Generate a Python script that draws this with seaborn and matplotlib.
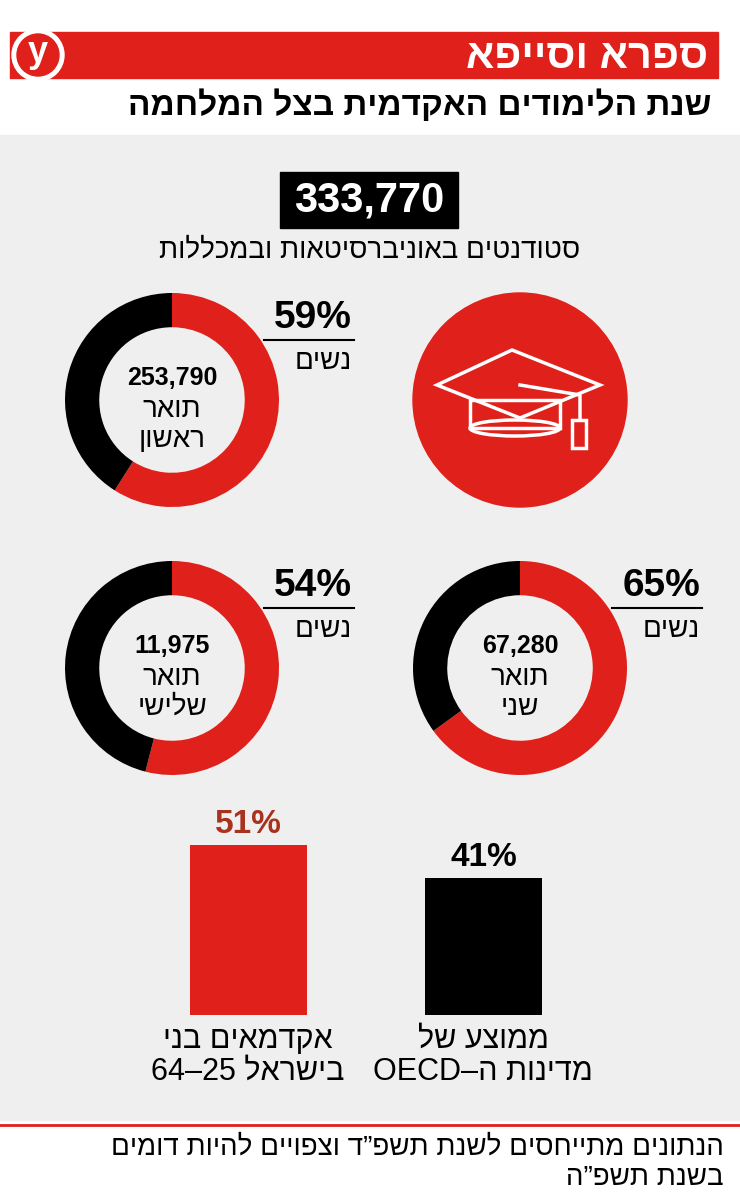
import matplotlib
matplotlib.use("Agg")
import matplotlib.pyplot as plt
import matplotlib.patches as mp
import seaborn as sns
import pandas as pd

# ---- data ----
total_students = "333,770"
donut_labels = ["תואר ראשון", "תואר שני", "תואר שלישי"]
donut_counts = ["253,790", "67,280", "11,975"]
women_pct = [59, 65, 54]
bar_categories = ["ישראל", "OECD"]
bar_values = [51, 41]

RED = "#e0201a"
BG = "#f0efef"
FONT = "Liberation Sans"
plt.rcParams["font.family"] = FONT

def rv(s):
    return s[::-1]

W, H = 740, 1199
fig = plt.figure(figsize=(W / 100, H / 100), dpi=100)
ax = fig.add_axes([0, 0, 1, 1])
ax.set_xlim(0, W); ax.set_ylim(H, 0); ax.axis("off")

def to_fig(x0, y0, w, h):
    return [x0 / W, 1 - (y0 + h) / H, w / W, h / H]

# backgrounds
ax.add_patch(mp.Rectangle((0, 0), W, H, color="white"))
ax.add_patch(mp.Rectangle((0, 135), W, 985, color=BG))
# header
ax.add_patch(mp.Rectangle((10, 32), 708, 46, color=RED))
ax.add_patch(mp.Circle((38, 55), 26, color="white"))
ax.add_patch(mp.Circle((38, 55), 21, color=RED))
ax.text(38, 53, "y", color="white", fontsize=26, fontweight="bold", ha="center", va="center")
ax.text(708, 57, rv("ספרא וסייפא"), color="white", fontsize=30, fontweight="bold", ha="right", va="center")
ax.text(712, 106, rv("שנת הלימודים האקדמית בצל המלחמה"), color="black", fontsize=24, fontweight="bold", ha="right", va="center")

# total
ax.add_patch(mp.Rectangle((280, 172), 178, 56, color="black"))
ax.text(369, 201, total_students, color="white", fontsize=30, fontweight="bold", ha="center", va="center")
ax.text(370, 251, rv("סטודנטים באוניברסיטאות ובמכללות"), fontsize=20, ha="center", va="center")

# donuts
centers = [(172, 400), (520, 668), (172, 668)]
for (cx, cy), lab, cnt, p in zip(centers, donut_labels, donut_counts, women_pct):
    r = 107
    dax = fig.add_axes(to_fig(cx - r, cy - r, 2 * r, 2 * r))
    dax.pie([p, 100 - p], colors=[RED, "black"], startangle=90, counterclock=False,
            wedgeprops=dict(width=0.32, linewidth=0))
    dax.set_xlim(-1, 1); dax.set_ylim(-1, 1)
    dax.set_aspect("equal"); dax.axis("off")
    w1, w2 = lab.split(" ")
    ax.text(cx, cy - 22, cnt, fontsize=18, fontweight="bold", ha="center", va="center")
    ax.text(cx, cy + 10, rv(w1), fontsize=20, ha="center", va="center")
    ax.text(cx, cy + 40, rv(w2), fontsize=20, ha="center", va="center")
    px = cx + 180
    ly = cy - 60
    ax.text(px, ly - 22, f"{p}%", fontsize=28, fontweight="bold", ha="right", va="center")
    ax.plot([px - 88, px + 2], [ly, ly], color="black", lw=1.5)
    ax.text(px, ly + 22, rv("נשים"), fontsize=20, ha="right", va="center")

# red circle with cap
ax.add_patch(mp.Circle((520, 400), 107, color=RED))
ax.add_patch(mp.Polygon([(437, 385), (512, 350), (600, 385), (520, 418)], closed=True,
                        fill=False, ec="white", lw=2.5))
ax.add_patch(mp.Polygon([(470, 400), (470, 428), (560, 428), (560, 400)], closed=True,
                        fill=False, ec="white", lw=2.5))
ax.add_patch(mp.Ellipse((515, 428), 90, 16, fill=False, ec="white", lw=2.5))
ax.plot([520, 580, 580], [385, 395, 420], color="white", lw=2.5)
ax.add_patch(mp.Rectangle((572, 420), 14, 28, fill=False, ec="white", lw=2.5))

# bars via seaborn
bax = fig.add_axes(to_fig(190, 845, 352, 170))
df = pd.DataFrame({"cat": bar_categories, "val": bar_values})
sns.barplot(data=df, x="cat", y="val", hue="cat", palette=[RED, "black"], legend=False,
            width=0.498, saturation=1, ax=bax)
bax.set_ylim(0, 51); bax.set_xlim(-0.249, 1.249)
bax.axis("off")
for i, (v, c) in enumerate(zip(bar_values, ["#a8321e", "black"])):
    bax.text(i, v + 1.5, f"{v}%", color=c, fontsize=24, fontweight="bold", ha="center", va="bottom")

ax.text(248, 1040, rv("אקדמאים בני"), fontsize=22, ha="center", va="center")
ax.text(248, 1072, "64–25 " + rv("בישראל"), fontsize=22, ha="center", va="center")
ax.text(483, 1040, rv("ממוצע של"), fontsize=22, ha="center", va="center")
ax.text(483, 1072, "OECD–" + rv("מדינות ה"), fontsize=22, ha="center", va="center")

# footer
ax.plot([0, W], [1125, 1125], color=RED, lw=2)
ax.text(724, 1148, rv("הנתונים מתייחסים לשנת תשפ”ד וצפויים להיות דומים"), fontsize=20, ha="right", va="center")
ax.text(724, 1178, rv("בשנת תשפ”ה"), fontsize=20, ha="right", va="center")

fig.savefig("out.png", dpi=100)
